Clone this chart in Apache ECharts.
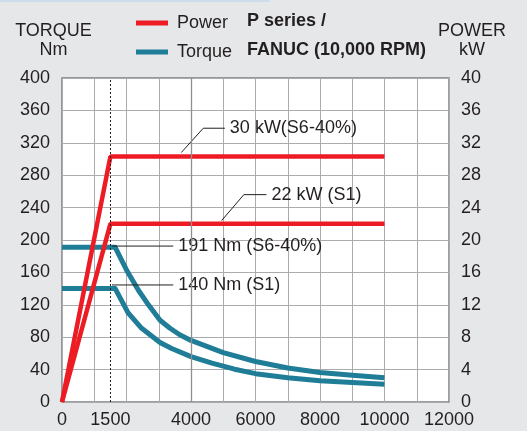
<!DOCTYPE html>
<html><head><meta charset="utf-8">
<script src="https://cdn.jsdelivr.net/npm/echarts@6/dist/echarts.min.js"></script>
<style>html,body{margin:0;padding:0;background:#e6e7e9}#c{width:527px;height:431px}</style>
</head><body><div id="c"></div>
<script>
// Speed axis (RPM)
const speedLabels = [0, 1500, 4000, 6000, 8000, 10000, 12000];
const baseSpeed = 1500;
// Power curves (kW) [rpm, kW]
const powerS6 = [[0, 0], [1500, 30.3], [10000, 30.3]];
const powerS1 = [[0, 0], [1500, 22], [10000, 22]];
// Torque curves (Nm) [rpm, Nm]
const torqueS6 = [[0, 191], [1650, 191], [2000, 163], [2370, 138], [2680, 120], [3040, 101], [3350, 91], [3650, 83], [4000, 76], [5000, 61], [6000, 50], [7000, 42], [8000, 36.5], [9000, 33], [10000, 30]];
const torqueS1 = [[0, 140], [1650, 140], [2050, 110], [2470, 91], [3040, 73.5], [3400, 66], [4000, 56], [4650, 48], [5350, 40.5], [6000, 35], [7000, 30], [8000, 26.3], [9000, 24], [10000, 22]];
// Annotation leaders [rpm, value]
const notePowerS6 = [[3700, 30.8], [4380, 33.8], [5050, 33.8]];
const notePowerS1 = [[4950, 22.4], [5640, 25.6], [6340, 25.6]];
const noteTorqueS6 = [[1550, 192.5], [3450, 192.5]];
const noteTorqueS1 = [[1550, 144.5], [3450, 144.5]];
const noteTexts = ['30 kW(S6-40%)', '22 kW (S1)', '191 Nm (S6-40%)', '140 Nm (S1)'];

const FONT = "'Liberation Sans', Arial, Helvetica, sans-serif";
const FS = 18;
const INK = '#231f20';
const RED = '#ed1c24';
const TEAL = '#1f7d97';

const chart = echarts.init(document.getElementById('c'), null, {renderer: 'canvas'});

function note(data, text, axis) {
  return {
    type: 'line', name: text, yAxisIndex: axis, data: data,
    symbol: 'none', silent: true, z: 4,
    lineStyle: {color: INK, width: 1},
    endLabel: {show: true, formatter: text, color: INK, fontSize: FS, fontFamily: FONT, distance: 5}
  };
}
function txt(x, y, s, align, bold) {
  return {type: 'text', x: x, y: y, style: {text: s, fill: INK, font: (bold ? 'bold ' : '') + FS + 'px ' + FONT, align: align, verticalAlign: 'middle'}};
}

chart.setOption({
  animation: false,
  backgroundColor: '#e6e7e9',
  grid: {left: 62, right: 78, top: 78, bottom: 29, show: true, backgroundColor: '#ffffff', borderColor: '#7d7f82', borderWidth: 1.5},
  legend: {
    data: ['Power', 'Torque'], orient: 'vertical', left: 131, top: 8,
    icon: 'rect', itemWidth: 32, itemHeight: 5, itemGap: 9,
    textStyle: {fontSize: FS, color: INK, fontFamily: FONT, lineHeight: 20, padding: [0, 0, 0, 4]}
  },
  xAxis: {
    type: 'value', min: 0, max: 12000, interval: 1000,
    axisLine: {show: false}, axisTick: {show: false},
    axisLabel: {customValues: speedLabels, formatter: v => String(v), color: INK, fontSize: FS, fontFamily: FONT, margin: 9},
    splitLine: {show: true, lineStyle: {color: '#a9abae', width: 1}}
  },
  yAxis: [
    {type: 'value', min: 0, max: 400, interval: 40,
     axisLine: {show: false}, axisTick: {show: false},
     axisLabel: {color: INK, fontSize: FS, fontFamily: FONT, margin: 12},
     splitLine: {show: true, lineStyle: {color: '#a9abae', width: 1}}},
    {type: 'value', min: 0, max: 40, interval: 4,
     axisLine: {show: false}, axisTick: {show: false},
     axisLabel: {color: INK, fontSize: FS, fontFamily: FONT, margin: 12},
     splitLine: {show: false}}
  ],
  graphic: [
    {type: 'rect', left: 0, top: 0, shape: {width: 270, height: 2}, style: {fill: '#cddcea'}},
    txt(53.5, 31, 'TORQUE', 'center'),
    txt(53.5, 50, 'Nm', 'center'),
    txt(472, 31, 'POWER', 'center'),
    txt(472, 50, 'kW', 'center'),
    txt(247, 21, 'P series /', 'left', true),
    txt(247, 50, 'FANUC (10,000 RPM)', 'left', true)
  ],
  series: [
    {type: 'line', name: 'Torque', yAxisIndex: 0, data: torqueS6, symbol: 'none', z: 2,
     lineStyle: {color: TEAL, width: 5, join: 'round'}, itemStyle: {color: TEAL},
     markLine: {silent: true, symbol: 'none', label: {show: false},
       data: [
         {xAxis: baseSpeed, lineStyle: {type: [2, 2], color: INK, width: 1}},
         {xAxis: 4000, lineStyle: {type: 'solid', color: '#8e9093', width: 1.3}}
       ]}},
    {type: 'line', name: 'Torque', yAxisIndex: 0, data: torqueS1, symbol: 'none', z: 2,
     lineStyle: {color: TEAL, width: 5, join: 'round'}, itemStyle: {color: TEAL}},
    {type: 'line', name: 'Power', yAxisIndex: 1, data: powerS6, symbol: 'none', z: 3,
     lineStyle: {color: RED, width: 4.5}, itemStyle: {color: RED}},
    {type: 'line', name: 'Power', yAxisIndex: 1, data: powerS1, symbol: 'none', z: 3,
     lineStyle: {color: RED, width: 4.5}, itemStyle: {color: RED}},
    note(notePowerS6, noteTexts[0], 1),
    note(notePowerS1, noteTexts[1], 1),
    note(noteTorqueS6, noteTexts[2], 0),
    note(noteTorqueS1, noteTexts[3], 0)
  ]
});
</script></body></html>
